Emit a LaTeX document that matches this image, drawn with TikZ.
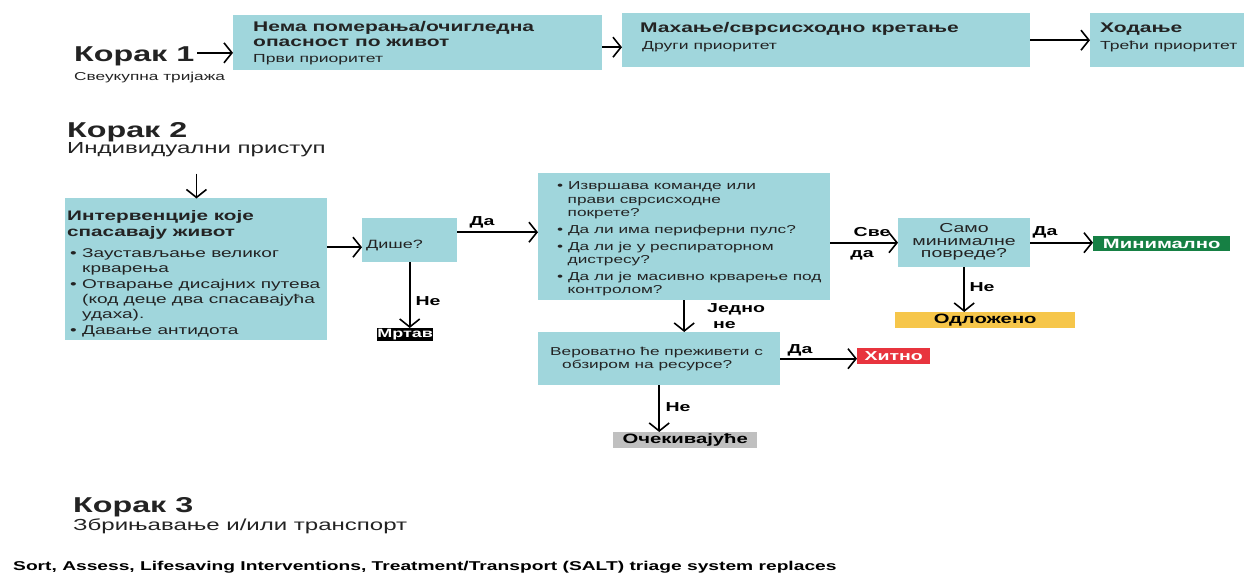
\documentclass[tikz,border=0pt]{standalone}
\usepackage{fontspec}
\setmainfont[FakeStretch=1.5]{Liberation Sans}
\usetikzlibrary{arrows.meta}
\definecolor{triteal}{RGB}{160,214,220}
\definecolor{mingreen}{RGB}{22,128,68}
\definecolor{delyellow}{RGB}{246,198,74}
\definecolor{immred}{RGB}{232,52,62}
\definecolor{expgray}{RGB}{192,192,192}
\definecolor{ink}{RGB}{35,35,35}
\newcommand{\fsz}[2]{\fontsize{#1}{#2}\selectfont}
\tikzset{
  box/.style={fill=triteal, anchor=north west, inner sep=0pt},
  txt/.style={anchor=north west, inner sep=0pt, align=left, text=ink},
  line/.style={anchor=base west, inner sep=0pt, text=ink},
  arr/.style={-{Straight Barb[length=8pt,width=20pt,line width=1.6pt]}, line width=1.8pt},
  lbl/.style={inner sep=0pt, font=\bfseries\fsz{13}{16}},
  tag/.style={anchor=north west, inner sep=0pt, font=\bfseries\fsz{13.5}{16}},
}
\begin{document}
\begin{tikzpicture}[x=1pt,y=-1pt]
\useasboundingbox[fill=white] (0,0) rectangle (1244,578);
% Step 1
\node[line, font=\bfseries\fsz{21.5}{24}] (step1) at (74,62) {Корак 1};
\node[line, font=\fsz{11.5}{13}] (step1sub) at (74,80) {Свеукупна тријажа};
\node[box, minimum width=369pt, minimum height=55pt] (nomove) at (233,15) {};
\node[txt, font=\bfseries\fsz{14}{15}] at (253,21.6) {Нема померања/очигледна\\опасност по живот};
\node[line, font=\fsz{11.7}{13}] at (253,63) {Први приоритет};
\node[box, minimum width=408pt, minimum height=54pt] (wave) at (622,13) {};
\node[line, font=\bfseries\fsz{14}{15}] at (640,33) {Махање/сврсисходно кретање};
\node[line, font=\fsz{11.7}{13}] at (642,50) {Други приоритет};
\node[box, minimum width=154pt, minimum height=54pt] (walk) at (1090,13) {};
\node[line, font=\bfseries\fsz{14}{15}] at (1100,33) {Ходање};
\node[line, font=\fsz{11.7}{13}] at (1100,50) {Трећи приоритет};
\draw[arr] ([xshift=3pt,yshift=4pt]step1.east) -- ([yshift=4pt]step1.east -| nomove.west);
\draw[arr] ([yshift=-4.5pt]nomove.east) -- ([yshift=-4.5pt]nomove.east -| wave.west);
\draw[arr] (wave.east) -- (wave.east -| walk.west);
% Step 2
\node[line, font=\bfseries\fsz{21.5}{24}] (step2) at (67,137) {Корак 2};
\node[line, font=\fsz{16}{18}] (step2sub) at (67,153) {Индивидуални приступ};
\node[box, minimum width=262pt, minimum height=142pt] (lifesave) at (65,198) {};
\node[txt, font=\bfseries\fsz{13.8}{16}] at (67,210) {Интервенције које\\спасавају живот};
\node[txt, font=\fsz{12.7}{15}] at (70,248.9)
  {• Заустављање великог\\\hspace*{12pt}крварења\\[1pt]
   • Отварање дисајних путева\\\hspace*{12pt}(код деце два спасавајућа\\\hspace*{12pt}удаха).\\[1pt]
   • Давање антидота};
\node[box, minimum width=95pt, minimum height=44pt] (breath) at (362,218) {};
\node[line, font=\fsz{12}{14}] at (366,248) {Дише?};
\node[box, minimum width=292pt, minimum height=127pt] (assess) at (538,173) {};
\node[txt, font=\fsz{11.5}{13.3}] at (557,181.8)
  {• Извршава команде или\\\hspace*{10.5pt}прави сврсисходне\\\hspace*{10.5pt}покрете?\\[3.5pt]
   • Да ли има периферни пулс?\\[3.5pt]
   • Да ли је у респираторном\\\hspace*{10.5pt}дистресу?\\[3.5pt]
   • Да ли је масивно крварење под\\\hspace*{10.5pt}контролом?};
\node[box, minimum width=132pt, minimum height=49pt] (minor) at (898,218) {};
\node[txt, font=\fsz{13}{12.5}, align=center, anchor=north] at (964,223.7) {Само\\минималне\\повреде?};
\node[box, minimum width=242pt, minimum height=53pt] (survive) at (538,332) {};
\node[txt, font=\fsz{11.5}{13}] at (550,346.6) {Вероватно ће преживети с\\\hspace*{12pt}обзиром на ресурсе?};
% Categories
\node[tag, fill=black, text=white, minimum width=56pt, minimum height=13pt, font=\bfseries\fsz{12}{14}] (dead) at (377,328) {Мртав};
\node[tag, fill=mingreen, text=white, minimum width=137pt, minimum height=15pt] (minimal) at (1093,236) {Минимално};
\node[tag, fill=delyellow, text=black, minimum width=180pt, minimum height=16pt] (delayed) at (895,312) {Одложено};
\node[tag, fill=immred, text=white, minimum width=73pt, minimum height=16pt, font=\bfseries\fsz{13}{16}] (immediate) at (857,348) {Хитно};
\node[tag, fill=expgray, text=black, minimum width=144pt, minimum height=16pt] (expectant) at (613,432) {Очекивајуће};
% Arrows
\draw[arr] (step2sub.south) ++(0,17) -- ([yshift=-0.5pt]step2sub.south |- lifesave.north);
\draw[arr] ([yshift=-7pt]lifesave.east |- breath.west) -- ([yshift=-7pt]breath.west);
\draw[arr] ([yshift=8pt]breath.east) -- ([yshift=8pt]breath.east -| assess.west);
\node[lbl] at (482,222) {Да};
\draw[arr] (breath.south) -- (breath.south |- dead.north);
\node[lbl] at (428,301) {Не};
\draw[arr] (assess.east |- minor.west) -- (minor.west);
\node[lbl] at (872,232) {Све};
\node[lbl] at (862,255) {да};
\draw[arr] (minor.east) -- (minor.east -| minimal.west);
\node[lbl] at (1045,232) {Да};
\draw[arr] (minor.south) -- (minor.south |- delayed.north);
\node[lbl] at (982,287) {Не};
\draw[arr] (assess.south) -- (assess.south |- survive.north);
\node[lbl, anchor=north west, align=left] at (707,303) {Једно\\\hspace*{6pt}не};
\draw[arr] (survive.east) -- (survive.east -| immediate.west);
\node[lbl] at (800,350) {Да};
\draw[arr] (survive.south) -- (survive.south |- expectant.north);
\node[lbl] at (678,407) {Не};
% Step 3
\node[line, font=\bfseries\fsz{21.5}{24}] (step3) at (73,512) {Корак 3};
\node[line, font=\fsz{16}{18}] (step3sub) at (73,530) {Збрињавање и/или транспорт};
\node[line, font=\bfseries\fsz{12.8}{15}, text=black] (caption) at (13,570) {Sort, Assess, Lifesaving Interventions, Treatment/Transport (SALT) triage system replaces};
\end{tikzpicture}
\end{document}
